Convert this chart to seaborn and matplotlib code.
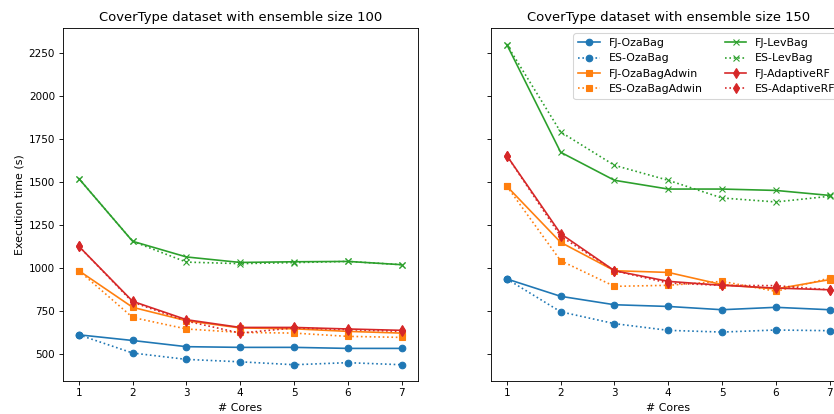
import matplotlib
matplotlib.use("Agg")
import matplotlib.pyplot as plt
import seaborn as sns
import pandas as pd

cores = [1, 2, 3, 4, 5, 6, 7]

# Ensemble size 100
fj_ozabag_100 = [610, 577, 541, 537, 537, 531, 531]
es_ozabag_100 = [610, 504, 467, 453, 436, 448, 436]
fj_adwin_100 = [983, 770, 692, 650, 645, 630, 620]
es_adwin_100 = [983, 711, 644, 624, 620, 601, 595]
fj_levbag_100 = [1519, 1154, 1063, 1031, 1035, 1037, 1018]
es_levbag_100 = [1519, 1154, 1033, 1024, 1030, 1037, 1018]
fj_arf_100 = [1125, 805, 698, 653, 653, 644, 636]
es_arf_100 = [1125, 800, 690, 620, 650, 640, 630]

# Ensemble size 150
fj_ozabag_150 = [935, 834, 785, 775, 756, 770, 756]
es_ozabag_150 = [935, 744, 675, 636, 626, 638, 634]
fj_adwin_150 = [1474, 1148, 983, 973, 902, 877, 931]
es_adwin_150 = [1474, 1041, 892, 898, 921, 863, 940]
fj_levbag_150 = [2298, 1672, 1509, 1458, 1458, 1450, 1421]
es_levbag_150 = [2298, 1790, 1596, 1509, 1406, 1383, 1416]
fj_arf_150 = [1652, 1198, 983, 921, 898, 882, 872]
es_arf_150 = [1652, 1183, 983, 911, 898, 896, 872]

labels = ["FJ-OzaBag", "ES-OzaBag", "FJ-OzaBagAdwin", "ES-OzaBagAdwin",
          "FJ-LevBag", "ES-LevBag", "FJ-AdaptiveRF", "ES-AdaptiveRF"]
series_100 = [fj_ozabag_100, es_ozabag_100, fj_adwin_100, es_adwin_100,
              fj_levbag_100, es_levbag_100, fj_arf_100, es_arf_100]
series_150 = [fj_ozabag_150, es_ozabag_150, fj_adwin_150, es_adwin_150,
              fj_levbag_150, es_levbag_150, fj_arf_150, es_arf_150]
titles = ["CoverType dataset with ensemble size 100",
          "CoverType dataset with ensemble size 150"]

pal = sns.color_palette("tab10")
colors = [pal[0], pal[0], pal[1], pal[1], pal[2], pal[2], pal[3], pal[3]]
markers = ["o", "o", "s", "s", "x", "x", "d", "d"]
styles = ["-", ":", "-", ":", "-", ":", "-", ":"]

DPI = 79
fig = plt.figure(figsize=(834 / DPI, 414 / DPI), dpi=DPI)
ax1 = fig.add_axes([0.0752, 0.0804, 0.4257, 0.852])
ax2 = fig.add_axes([0.5884, 0.0804, 0.4257, 0.852], sharey=ax1)

for ax, data, title in [(ax1, series_100, titles[0]), (ax2, series_150, titles[1])]:
    for lab, vals, c, m, ls in zip(labels, data, colors, markers, styles):
        df = pd.DataFrame({"cores": cores, "time": vals})
        sns.lineplot(data=df, x="cores", y="time", ax=ax, color=c, marker=m,
                     linestyle=ls, linewidth=1.5, markersize=6,
                     markeredgecolor=c, markeredgewidth=1.0, label=lab,
                     legend=False)
    ax.set_title(title, fontsize=12)
    ax.set_xlabel("# Cores", fontsize=10)
    ax.set_xticks(cores)
    ax.tick_params(labelsize=9.5)

ax1.set_ylabel("Execution time (s)", fontsize=10)
ax2.set_ylabel("")
ax2.tick_params(labelleft=False)
ax1.set_ylim(343, 2395)
ax1.set_yticks([500, 750, 1000, 1250, 1500, 1750, 2000, 2250])

handles, labs = ax2.get_legend_handles_labels()
ax2.legend(handles, labs, ncol=2, loc="upper right", fontsize=10)

fig.savefig("out.png", dpi=DPI)
